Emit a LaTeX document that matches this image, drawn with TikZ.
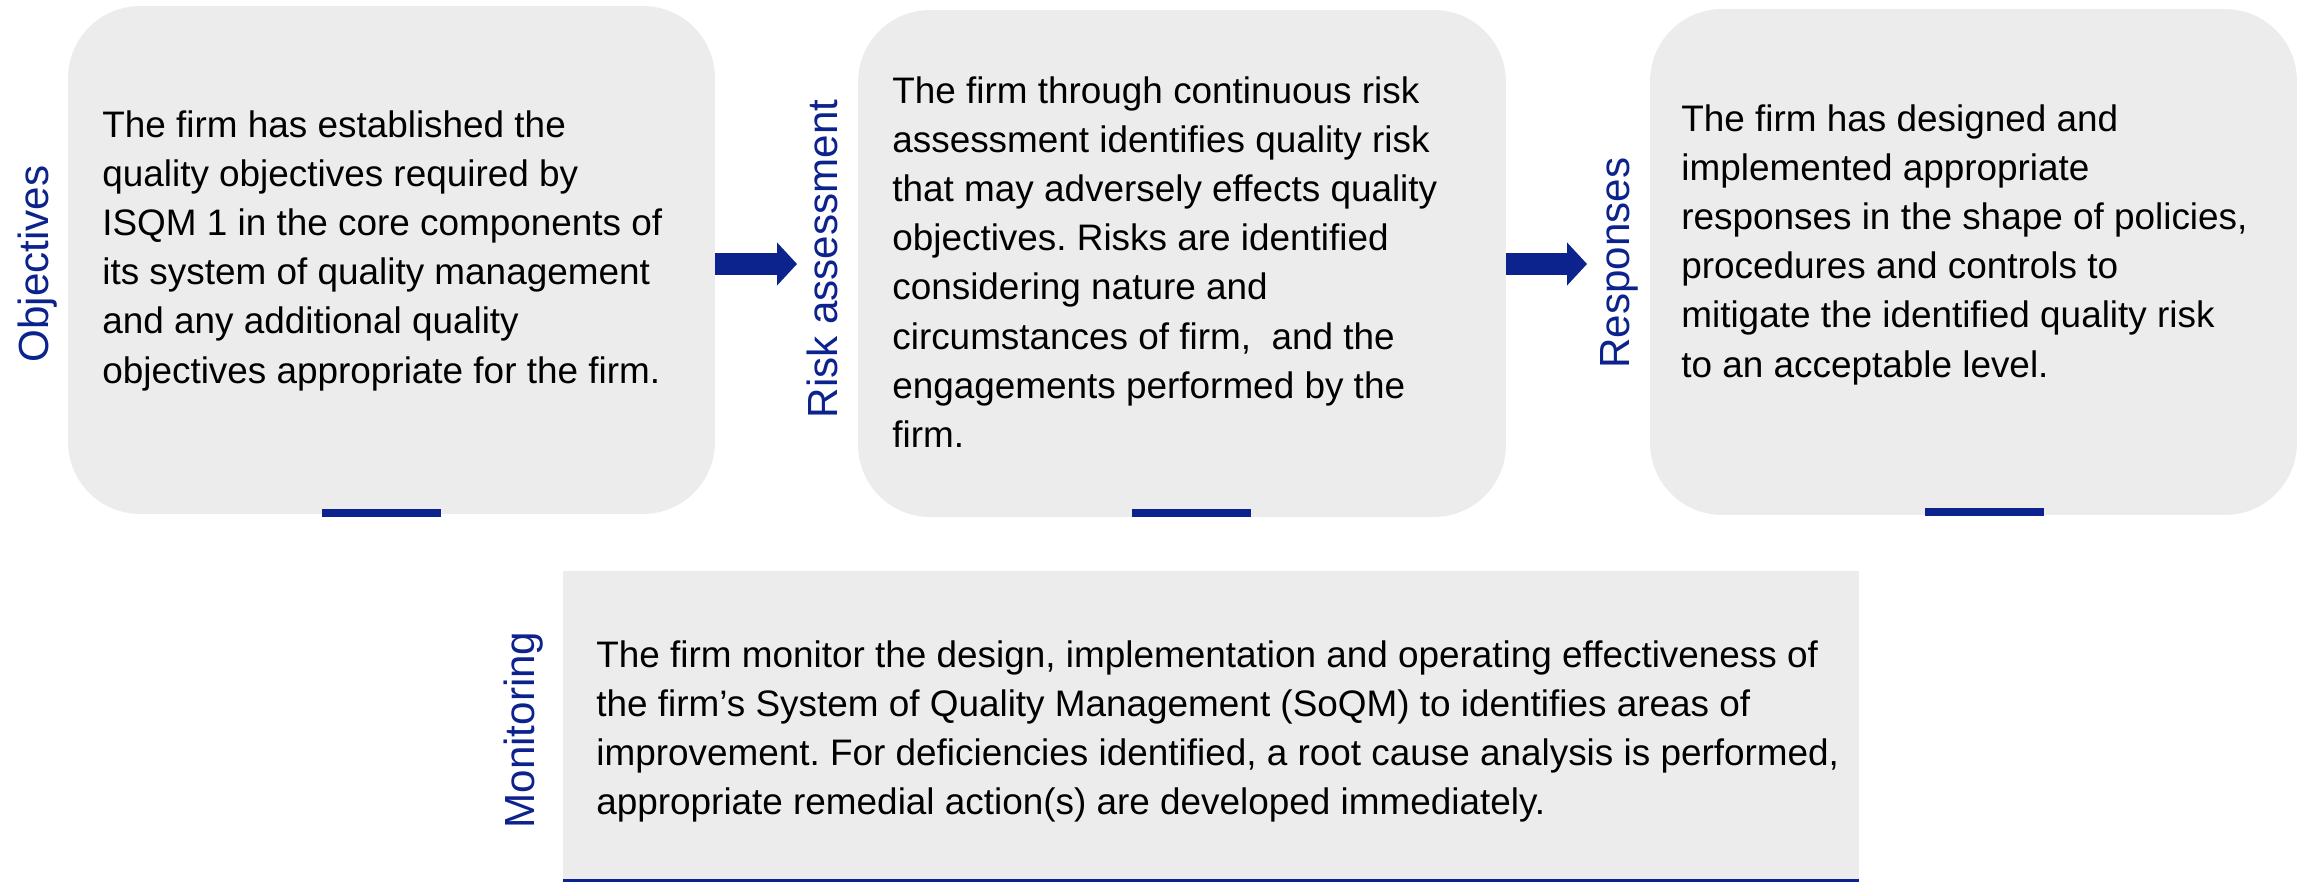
\documentclass[tikz,border=0pt]{standalone}
\usepackage{fontspec}
\setmainfont{Liberation Sans}
\usetikzlibrary{arrows.meta}
\frenchspacing
\definecolor{navy}{RGB}{12,34,140}
\definecolor{boxgray}{RGB}{236,236,236}
\tikzset{
  roundbox/.style={fill=boxgray, draw=none, inner sep=0pt, rounded corners=1.44cm},
  flatbox/.style={fill=boxgray, draw=none, inner sep=0pt},
  bodytext/.style={anchor=north west, inner sep=0pt, align=left, font=\fontsize{21}{28}\selectfont, text=black},
  lab/.style={rotate=90, anchor=base, inner sep=0pt, font=\fontsize{24}{28}\selectfont, text=navy},
  blockarrow/.style={draw=navy, line width=0.43cm, -{Triangle[length=0.4cm, width=0.84cm]}, navy},
  bar/.style={fill=navy}
}
\begin{document}
\begin{tikzpicture}[x=0.02cm, y=-0.02cm]
\useasboundingbox (0,0) rectangle (2305,882);
% boxes
\node[roundbox, minimum width=12.94cm, minimum height=10.16cm] (b1) at (391.5,260) {};
\node[roundbox, minimum width=12.96cm, minimum height=10.14cm] (b2) at (1182,263.5) {};
\node[roundbox, minimum width=12.94cm, minimum height=10.12cm] (b3) at (1973.5,262) {};
\node[flatbox, minimum width=25.92cm, minimum height=6.18cm] (b4) at (1211,725.5) {};
% bars
\fill[bar] (322,509) rectangle (441,517);
\fill[bar] (1132,509) rectangle (1251,517);
\fill[bar] (1925,508) rectangle (2044,516);
\fill[bar] (563,879) rectangle (1859,882);
% arrows
\coordinate (a1end) at (797,264);
\coordinate (a2end) at (1587,264);
\draw[blockarrow] (b1.east |- a1end) -- (a1end);
\draw[blockarrow] (b2.east |- a2end) -- (a2end);
% labels
\node[lab] (l1) at (48,264) {Objectives};
\node[lab] (l2) at (837,259) {Risk assessment};
\node[lab] (l3) at (1629,263) {Responses};
\node[lab] (l4) at (534,730) {Monitoring};
% texts
\node[bodytext] (t1) at (102,110) {The firm has established the\\quality objectives required by\\ISQM 1 in the core components of\\its system of quality management\\and any additional quality\\objectives appropriate for the firm.};
\node[bodytext] (t2) at (892,76) {The firm through continuous risk\\assessment identifies quality risk\\that may adversely effects quality\\objectives. Risks are identified\\considering nature and\\circumstances of firm,~ and the\\engagements performed by the\\firm.};
\node[bodytext] (t3) at (1681,104) {The firm has designed and\\implemented appropriate\\responses in the shape of policies,\\procedures and controls to\\mitigate the identified quality risk\\to an acceptable level.};
\node[bodytext] (t4) at (596,640) {The firm monitor the design, implementation and operating effectiveness of\\the firm’s System of Quality Management (SoQM) to identifies areas of\\improvement. For deficiencies identified, a root cause analysis is performed,\\appropriate remedial action(s) are developed immediately.};
\end{tikzpicture}
\end{document}
